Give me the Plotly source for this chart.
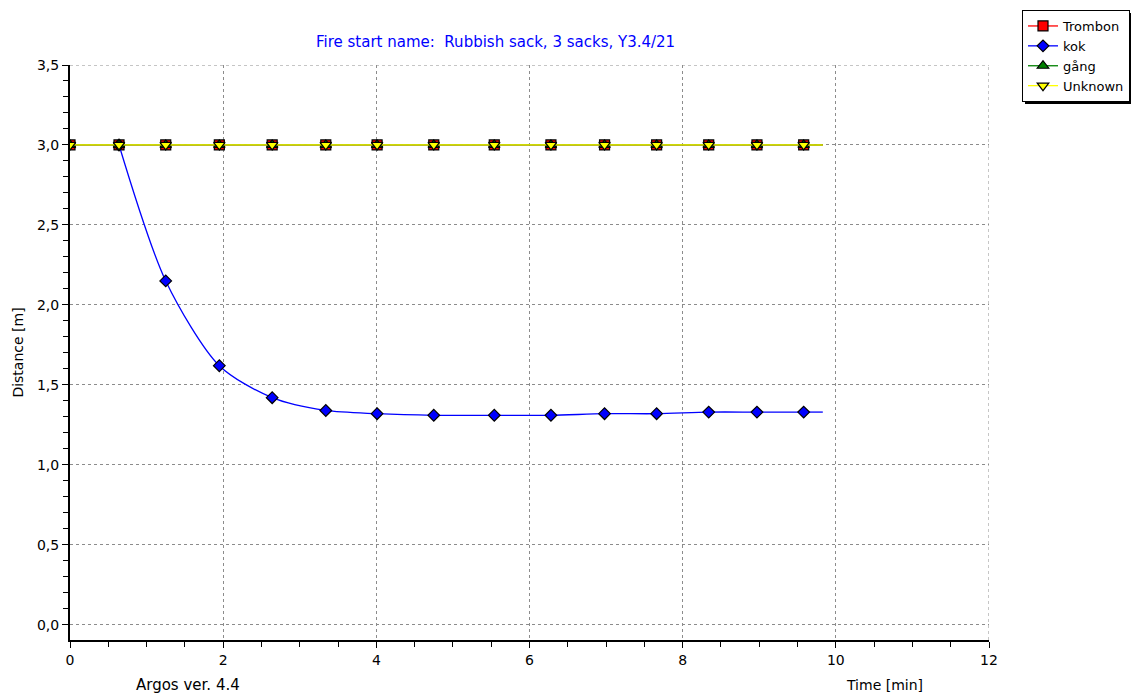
import plotly.graph_objects as go

# ---- data ----
time_min = [0.0, 0.64, 1.25, 1.95, 2.64, 3.34, 4.01, 4.75, 5.54, 6.28, 6.98, 7.66, 8.34, 8.97, 9.58]
trombon = [3.0, 3.0, 3.0, 3.0, 3.0, 3.0, 3.0, 3.0, 3.0, 3.0, 3.0, 3.0, 3.0, 3.0, 3.0]
gang = [3.0, 3.0, 3.0, 3.0, 3.0, 3.0, 3.0, 3.0, 3.0, 3.0, 3.0, 3.0, 3.0, 3.0, 3.0]
unknown = [3.0, 3.0, 3.0, 3.0, 3.0, 3.0, 3.0, 3.0, 3.0, 3.0, 3.0, 3.0, 3.0, 3.0, 3.0]
kok_time = [0.64, 1.25, 1.95, 2.64, 3.34, 4.01, 4.75, 5.54, 6.28, 6.98, 7.66, 8.34, 8.97, 9.58]
kok = [3.0, 2.15, 1.62, 1.42, 1.34, 1.32, 1.31, 1.31, 1.31, 1.32, 1.32, 1.33, 1.33, 1.33]
end_time = 9.83
kok_end = 1.33
flat_end = 3.0

W, H = 1135, 697
L, R, T, B = 70, 146, 65, 57
PW, PH = W - L - R, H - T - B

FONT = "DejaVu Sans, Verdana, sans-serif"
GRID = "#8c8c8c"
DASH = "3px,3px"


def px_x(p):
    return (p - L) / PW


def px_y(p):
    return (H - B - p) / PH


fig = go.Figure()

series = [
    ("Trombon", time_min, trombon, flat_end, "#ff0000", "square", 10),
    ("kok", kok_time, kok, kok_end, "#0000ff", "diamond", 9),
    ("gång", time_min, gang, flat_end, "#008000", "triangle-up", 10),
    ("Unknown", time_min, unknown, flat_end, "#ffff00", "triangle-down", 10),
]

for name, xs, ys, yend, col, sym, sz in series:
    fig.add_trace(go.Scatter(
        x=[xs[-1], end_time], y=[ys[-1], yend], mode="lines",
        line=dict(color=col, width=1.3), showlegend=False, hoverinfo="skip"))
    fig.add_trace(go.Scatter(
        x=xs, y=ys, name=name, mode="lines+markers",
        line=dict(color=col, width=1.3, shape="spline" if name == "kok" else "linear", smoothing=0.8),
        marker=dict(symbol=sym, size=sz, color=col, line=dict(color="black", width=1.2)),
    ))

fig.update_layout(
    width=W, height=H,
    margin=dict(l=L, r=R, t=T, b=B, autoexpand=False),
    paper_bgcolor="white", plot_bgcolor="white",
    font=dict(family=FONT, size=14, color="black"),
    separators=",.",
    showlegend=True,
    legend=dict(
        x=px_x(1022), y=px_y(10), xanchor="left", yanchor="top",
        bgcolor="white", bordercolor="black", borderwidth=1,
        font=dict(family=FONT, size=13, color="black"),
        itemwidth=30, tracegroupgap=0,
    ),
    xaxis=dict(
        range=[0, 12], dtick=2, tick0=0,
        showgrid=True, gridcolor=GRID, griddash=DASH, gridwidth=1,
        zeroline=False, showline=True, linecolor="black", linewidth=2,
        ticks="outside", ticklen=6, tickcolor="black", tickwidth=1,
        minor=dict(dtick=0.5, tick0=0, ticks="outside", ticklen=5, tickwidth=1,
                   tickcolor="black", showgrid=False),
        tickfont=dict(size=14),
    ),
    yaxis=dict(
        range=[-0.095, 3.5], dtick=0.5, tick0=0, tickformat=".1f",
        showgrid=True, gridcolor=GRID, griddash=DASH, gridwidth=1,
        zeroline=False, showline=True, linecolor="black", linewidth=2,
        ticks="outside", ticklen=6, tickcolor="black", tickwidth=1,
        minor=dict(dtick=0.1, tick0=0, ticks="outside", ticklen=5, tickwidth=1,
                   tickcolor="black", showgrid=False),
        tickfont=dict(size=14),
        title=dict(text="Distance [m]", font=dict(size=14), standoff=10),
    ),
    annotations=[
        dict(text="Fire start name:  Rubbish sack, 3 sacks, Y3.4/21",
             xref="paper", yref="paper", x=px_x(495), y=px_y(42),
             xanchor="center", yanchor="middle", showarrow=False,
             font=dict(family=FONT, size=15, color="#0000ff")),
        dict(text="Argos ver. 4.4", xref="paper", yref="paper",
             x=px_x(188), y=px_y(685), xanchor="center", yanchor="middle",
             showarrow=False, font=dict(family=FONT, size=15, color="black")),
        dict(text="Time [min]", xref="paper", yref="paper",
             x=px_x(884), y=px_y(685), xanchor="center", yanchor="middle",
             showarrow=False, font=dict(family=FONT, size=14, color="black")),
    ],
    shapes=[
        dict(type="line", xref="paper", yref="y", x0=0, x1=1, y0=3.5, y1=3.5,
             line=dict(color=GRID, width=1, dash=DASH), layer="below"),
        dict(type="line", xref="x", yref="paper", x0=12, x1=12, y0=0, y1=1,
             line=dict(color=GRID, width=1, dash=DASH), layer="below"),
        # drop shadow behind the legend box
        dict(type="rect", xref="paper", yref="paper",
             x0=px_x(1025), x1=px_x(1131), y0=px_y(104), y1=px_y(13),
             fillcolor="black", line=dict(width=0), layer="above"),
    ],
)

fig.write_html("out.html")
